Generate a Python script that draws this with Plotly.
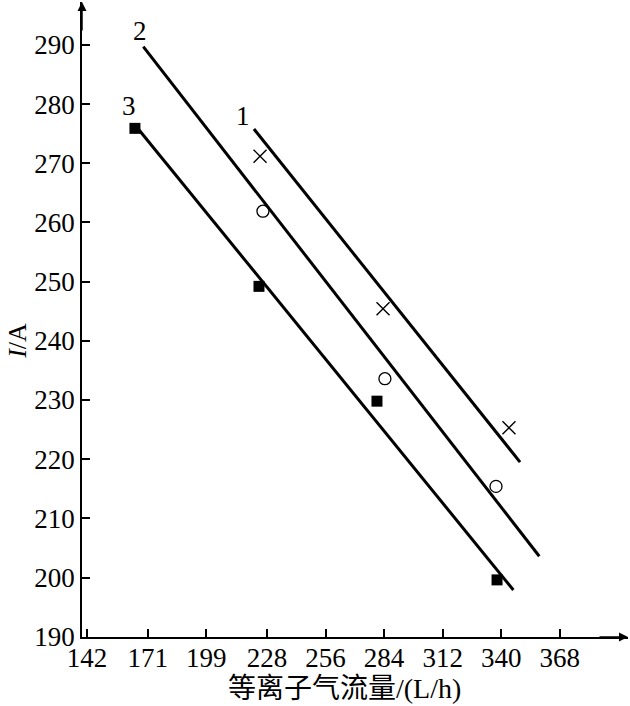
import plotly.graph_objects as go

# x: plasma gas flow (L/h), y: current I (A)
x_ticks = [142, 171, 199, 228, 256, 284, 312, 340, 368]
y_ticks = [190, 200, 210, 220, 230, 240, 250, 260, 270, 280, 290]

# measured points
cross_x = [224.7, 283.5, 343.7]
cross_y = [271.2, 245.4, 225.3]
circle_x = [226.1, 284.4, 337.5]
circle_y = [261.9, 233.6, 215.4]
square_x = [164.9, 224.2, 280.6, 338.0]
square_y = [275.9, 249.2, 229.8, 199.6]

# fitted lines (endpoints) and their labels
line1_x = [221.8, 349.0]
line1_y = [275.8, 219.5]
line2_x = [168.9, 358.2]
line2_y = [289.7, 203.6]
line3_x = [166.5, 345.8]
line3_y = [275.8, 197.9]
line_names = ["1", "2", "3"]
label_x = [216.6, 167.3, 162.0]
label_y = [278.0, 292.4, 279.6]

X_MIN, X_MAX = 139.6, 400.6
Y_MIN, Y_MAX = 189.95, 297.25

SERIF = "Liberation Serif, Noto Sans CJK SC"
INK = "black"

fig = go.Figure()
for lx, ly in [(line1_x, line1_y), (line2_x, line2_y), (line3_x, line3_y)]:
    fig.add_trace(go.Scatter(x=lx, y=ly, mode="lines", line=dict(color=INK, width=3),
                             showlegend=False, hoverinfo="skip"))

fig.add_trace(go.Scatter(x=cross_x, y=cross_y, mode="markers", showlegend=False,
                         marker=dict(symbol="x-thin", size=13, line=dict(color=INK, width=1.4))))
fig.add_trace(go.Scatter(x=circle_x, y=circle_y, mode="markers", showlegend=False,
                         marker=dict(symbol="circle-open", size=12, color=INK, line=dict(width=1.3))))
fig.add_trace(go.Scatter(x=square_x, y=square_y, mode="markers", showlegend=False,
                         marker=dict(symbol="square", size=11, color=INK)))

for name, tx, ty in zip(line_names, label_x, label_y):
    fig.add_annotation(x=tx, y=ty, text=name, showarrow=False,
                       font=dict(family=SERIF, size=27, color=INK))

# axis arrows
fig.add_annotation(x=X_MAX, y=Y_MIN, ax=-30, ay=0, showarrow=True, text="",
                   arrowhead=2, arrowsize=1.2, arrowwidth=1.5, arrowcolor=INK)
fig.add_annotation(x=X_MIN, y=Y_MAX, ax=0, ay=30, showarrow=True, text="",
                   arrowhead=2, arrowsize=1.2, arrowwidth=1.5, arrowcolor=INK)

# axis titles
fig.add_annotation(x=0, xref="paper", xanchor="center", xshift=-64, y=240, text="<i>I</i>/A",
                   textangle=-90, showarrow=False, font=dict(family=SERIF, size=26, color=INK))
fig.add_annotation(x=265.3, y=0, yref="paper", yanchor="middle", yshift=-51,
                   text="等离子气流量/(L/h)", showarrow=False,
                   font=dict(family=SERIF, size=28, color=INK))

axis_common = dict(showline=True, linecolor=INK, linewidth=1.5, showgrid=False, zeroline=False,
                   ticks="inside", ticklen=8, tickwidth=1.5, tickcolor=INK,
                   tickfont=dict(family=SERIF, size=27, color=INK))
fig.update_xaxes(range=[X_MIN, X_MAX], tickvals=x_ticks, ticklabelstandoff=-4, **axis_common)
fig.update_yaxes(range=[Y_MIN, Y_MAX], tickvals=y_ticks, ticklabelstandoff=0, **axis_common)

fig.update_layout(width=630, height=706, margin=dict(l=82, r=2, t=2, b=69),
                  plot_bgcolor="white", paper_bgcolor="white")

fig.write_html("out.html", config={"displayModeBar": False},
               post_script="document.body.style.margin='0';")
